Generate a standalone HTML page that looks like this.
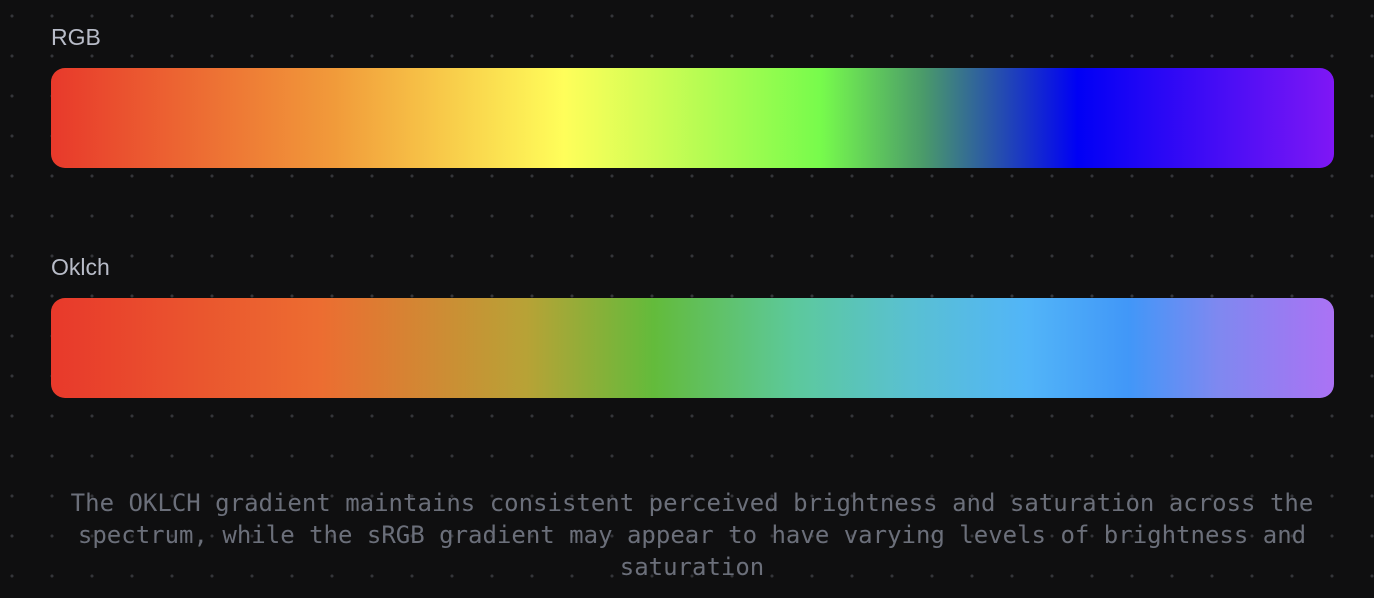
<!DOCTYPE html>
<html><head><meta charset="utf-8">
<style>
html,body{margin:0;padding:0}
body{width:1374px;height:598px;background-color:#0f0f10;
background-image:radial-gradient(circle at 12px 16px,#34353a 1.3px,transparent 1.8px);
background-size:40px 40px;position:relative;overflow:hidden;font-family:"Liberation Sans",sans-serif}
.label{position:absolute;left:51px;color:#b8bcc8;font-size:23px}
.bar{position:absolute;left:51px;width:1283px;height:100px;border-radius:14px}
#rgb{top:68px;background:linear-gradient(to right,#e8392b 0%,#f19a3a 22%,#fffe5a 40%,#77fb4c 60%,#4a9a6a 68%,#0000f5 80%,#7f17f5 100%)}
#ok{top:298px;background:linear-gradient(to right,#e8392b 0%,#ec6d31 21%,#b8a236 37%,#63bb3b 47%,#5cc99c 58%,#59c0d2 67%,#52b5f8 76%,#4197f8 84%,#7f88f0 91%,#ab72f4 100%)}
.note{position:absolute;left:57px;width:1270px;top:487px;text-align:center;color:#6b6f7a;
font-family:"DejaVu Sans Mono","Liberation Mono",monospace;font-size:24px;line-height:32px}
</style></head><body>
<div class="label" style="top:24px">RGB</div>
<div class="bar" id="rgb"></div>
<div class="label" style="top:254px">Oklch</div>
<div class="bar" id="ok"></div>
<div class="note">The OKLCH gradient maintains consistent perceived brightness and saturation across the spectrum, while the sRGB gradient may appear to have varying levels of brightness and saturation</div>
</body></html>
